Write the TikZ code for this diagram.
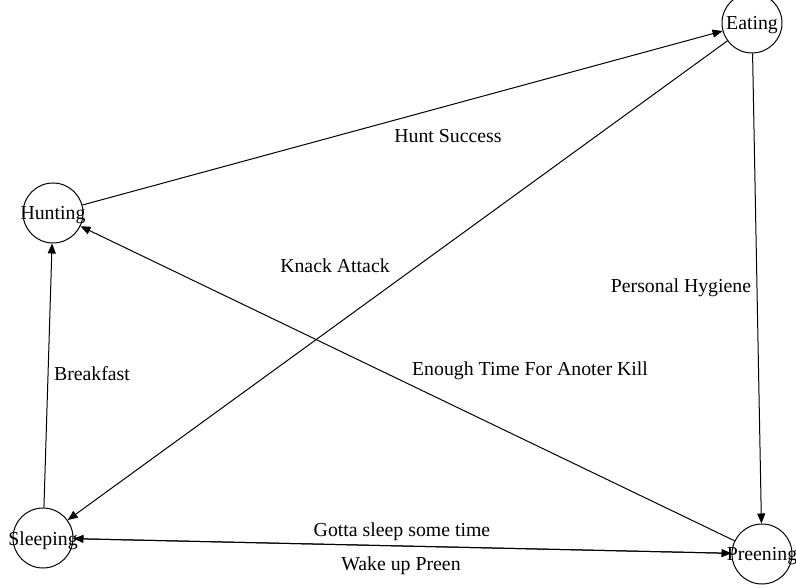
\documentclass[tikz,border=0pt]{standalone}
\usepackage{fontspec}
\setmainfont{Liberation Serif}
\usetikzlibrary{arrows.meta}
\begin{document}
\begin{tikzpicture}[x=1pt,y=-1pt,
  state/.style={circle,draw,line width=1pt,minimum size=60pt,inner sep=0pt},
  edge/.style={line width=1pt,-{Triangle[length=10pt,width=8pt]}},
  lbl/.style={anchor=base,inner sep=0pt,font=\fontsize{19.8}{24}\selectfont},
  every label/.style={font=\fontsize{19.8}{24}\selectfont,inner sep=0pt,yshift=-2.5pt}]
\useasboundingbox[fill=white] (0,0) rectangle (796,588);
\node[state,label={center:Eating}] (eat) at (752,23) {};
\node[state,label={center:Hunting}] (hunt) at (53,213) {};
\node[state,label={center:Sleeping}] (sleep) at (43,538) {};
\node[state,label={center:Preening}] (preen) at (762,554) {};
\draw[edge] (hunt) -- (eat);
\draw[edge] (eat) -- (sleep);
\draw[edge] (eat) -- (preen);
\draw[edge] (preen) -- (hunt);
\draw[edge] (sleep) -- (hunt);
\draw[edge] (preen) -- (sleep);
\draw[edge] (sleep) -- (preen);
\node[lbl] (l1) at (448,143) {Hunt Success};
\node[lbl] (l2) at (335,273) {Knack Attack};
\node[lbl] (l3) at (681,293) {Personal Hygiene};
\node[lbl] (l4) at (530,375) {Enough Time For Anoter Kill};
\node[lbl] (l5) at (92,381) {Breakfast};
\node[lbl] (l6) at (402,536) {Gotta sleep some time};
\node[lbl] (l7) at (401,570) {Wake up Preen};
\end{tikzpicture}
\end{document}
